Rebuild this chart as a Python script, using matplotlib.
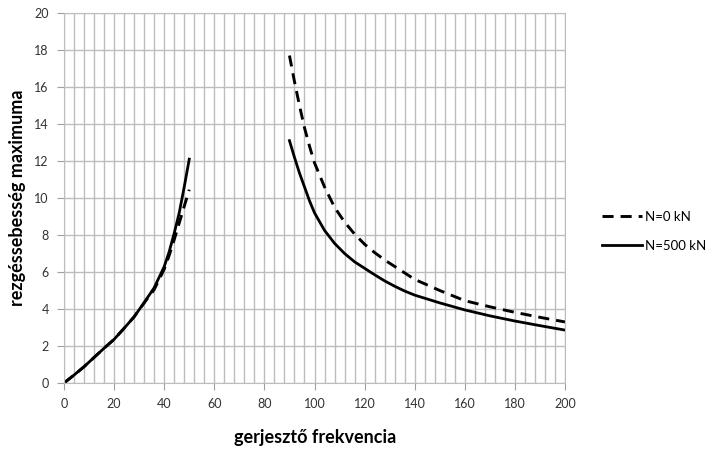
import numpy as np
import matplotlib.pyplot as plt

plt.rcParams['font.family'] = ['Lato', 'DejaVu Sans']

# alsó ág (0-50)
x_low = [0, 4, 8, 12, 16, 20, 24, 28, 32, 36, 40, 42, 44, 46, 48, 50]
n0_low = [0, 0.43, 0.88, 1.38, 1.88, 2.36, 2.96, 3.58, 4.33, 5.05, 6.15, 6.9, 7.75, 8.65, 9.55, 10.45]
n500_low = [0, 0.43, 0.88, 1.38, 1.88, 2.36, 2.96, 3.58, 4.35, 5.15, 6.29, 7.1, 8.1, 9.2, 10.6, 12.1]

# felső ág (90-200)
x_high = [90, 92, 94, 96, 98, 100, 104, 108, 112, 116, 120, 124, 128, 132, 136, 140,
          150, 160, 170, 180, 190, 200]
n0_high = [17.7, 16.3, 15.0, 13.8, 12.8, 11.9, 10.6, 9.5, 8.7, 8.05, 7.5, 7.05, 6.65, 6.3, 5.95, 5.6,
           5.0, 4.45, 4.12, 3.82, 3.55, 3.3]
n500_high = [13.1, 12.2, 11.35, 10.6, 9.85, 9.2, 8.25, 7.55, 7.0, 6.55, 6.2, 5.85, 5.52, 5.23, 4.97, 4.75,
             4.33, 3.95, 3.63, 3.35, 3.1, 2.86]

labels = ['N=0 kN', 'N=500 kN']

fig = plt.figure(figsize=(7.06, 4.49), dpi=100)
ax = fig.add_axes([64/706, 1 - 383/449, (565-64)/706, (383-13)/449])

dash = (0, (3.8, 2.4))
ax.plot(x_low, n0_low, color='black', lw=2.1, ls=dash, label=labels[0])
ax.plot(x_high, n0_high, color='black', lw=2.1, ls=dash)
ax.plot(x_low, n500_low, color='black', lw=2.0, label=labels[1])
ax.plot(x_high, n500_high, color='black', lw=2.0)

ax.set_xlim(0, 200)
ax.set_ylim(0, 20)
ax.set_xticks(np.arange(0, 201, 20))
ax.set_xticks(np.arange(0, 201, 4), minor=True)
ax.set_yticks(np.arange(0, 21, 2))
ax.grid(True, which='both', axis='x', color='#bdbdbd', lw=1)
ax.grid(True, which='major', axis='y', color='#bdbdbd', lw=1)
ax.set_axisbelow(True)
for s in ax.spines.values():
    s.set_color('#bdbdbd')
ax.tick_params(which='major', direction='out', length=5, color='#a0a0a0',
               labelsize=9, labelcolor='#333333', pad=6)
ax.tick_params(which='minor', length=0)

fig.text(315/706, 1 - 438/449, 'gerjesztő frekvencia', fontsize=13, fontweight='bold',
         ha='center', va='center')
fig.text(18/706, 1 - 198/449, 'rezgéssebesség maximuma', fontsize=13, fontweight='bold',
         ha='center', va='center', rotation=90)

ax.legend(loc='center left', bbox_to_anchor=(1.05, 0.41), frameon=False,
          fontsize=9.5, handlelength=3.0, handletextpad=0.3, labelspacing=1.3)

fig.savefig('out.png', dpi=100)
